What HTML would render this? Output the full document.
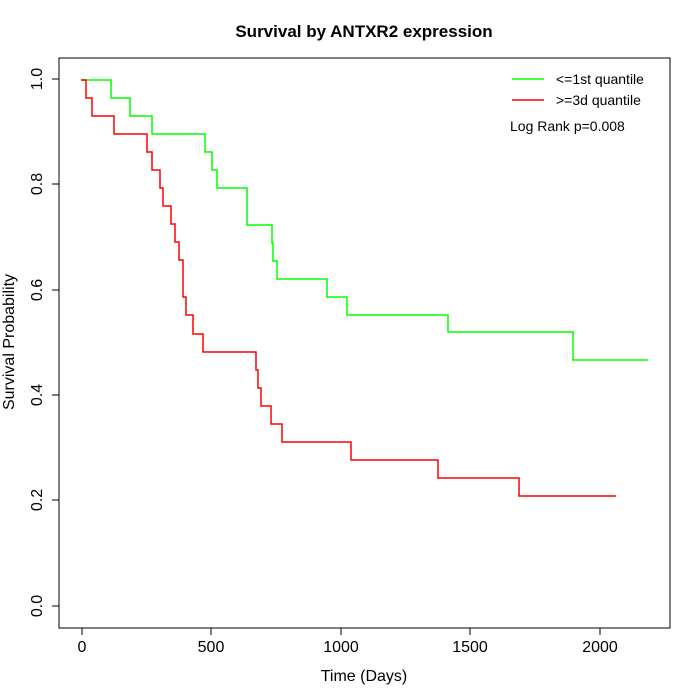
<!DOCTYPE html>
<html><head><style>body{margin:0;background:#fff}svg{display:block}text{font-family:"Liberation Sans",sans-serif}</style></head>
<body>
<svg width="700" height="700" viewBox="0 0 700 700">
<rect x="59" y="58" width="611" height="570" fill="none" stroke="#000" stroke-width="1"/>
<text x="364" y="37" font-size="17" font-weight="bold" text-anchor="middle">Survival by ANTXR2 expression</text>
<g stroke="#000" stroke-width="1">
<line x1="82" y1="628" x2="600" y2="628"/>
<line x1="82" y1="628" x2="82" y2="635"/><line x1="211" y1="628" x2="211" y2="635"/><line x1="341" y1="628" x2="341" y2="635"/><line x1="470" y1="628" x2="470" y2="635"/><line x1="600" y1="628" x2="600" y2="635"/>
<line x1="59" y1="79" x2="59" y2="606"/>
<line x1="52" y1="79" x2="59" y2="79"/><line x1="52" y1="184" x2="59" y2="184"/><line x1="52" y1="290" x2="59" y2="290"/><line x1="52" y1="395" x2="59" y2="395"/><line x1="52" y1="500" x2="59" y2="500"/><line x1="52" y1="606" x2="59" y2="606"/>
</g>
<g font-size="16" text-anchor="middle">
<text x="82" y="652">0</text><text x="211" y="652">500</text><text x="341" y="652">1000</text><text x="470" y="652">1500</text><text x="600" y="652">2000</text>
<text x="364" y="681">Time (Days)</text>
<g transform="rotate(-90)">
<text x="-79" y="42">1.0</text><text x="-184" y="42">0.8</text><text x="-290" y="42">0.6</text><text x="-395" y="42">0.4</text><text x="-500" y="42">0.2</text><text x="-606" y="42">0.0</text>
<text x="-342" y="14">Survival Probability</text>
</g>
</g>
<polyline fill="none" stroke="#00ff00" stroke-width="1.5" points="81,80 111,80 111,98 130,98 130,116 152,116 152,134 205,134 205,152 212,152 212,170 217,170 217,188 247,188 247,225 272,225 272,243 273,243 273,261 277,261 277,279 327,279 327,297 347,297 347,315 448,315 448,332 573,332 573,360 648,360"/>
<polyline fill="none" stroke="#ff0000" stroke-width="1.5" points="81,80 86,80 86,98 92,98 92,116 114,116 114,134 147,134 147,152 152,152 152,170 160,170 160,188 163,188 163,206 171,206 171,224 175,224 175,242 179,242 179,260 183,260 183,297 186,297 186,315 193,315 193,334 203,334 203,352 256,352 256,370 258,370 258,388 261,388 261,406 271,406 271,424 282,424 282,442 351,442 351,460 438,460 438,478 519,478 519,496 616,496"/>
<line x1="512" y1="79" x2="544" y2="79" stroke="#00ff00" stroke-width="1.5"/>
<line x1="512" y1="100" x2="544" y2="100" stroke="#ff0000" stroke-width="1.5"/>
<g font-size="14">
<text x="556" y="84">&lt;=1st quantile</text>
<text x="556" y="105">&gt;=3d quantile</text>
<text x="510" y="131">Log Rank p=0.008</text>
</g>
</svg>
</body></html>
